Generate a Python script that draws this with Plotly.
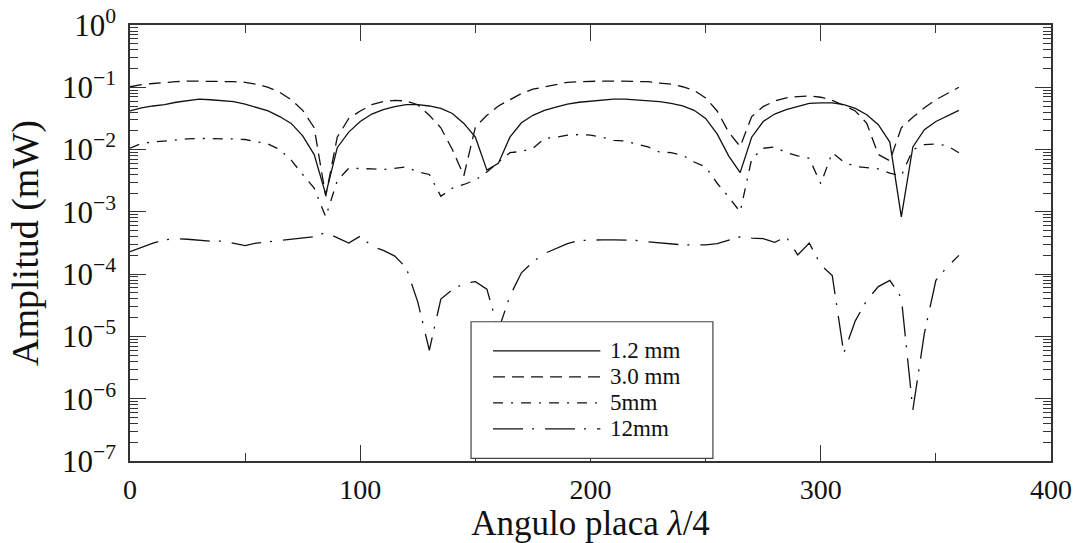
import plotly.graph_objects as go

# Rotation angle of the quarter-wave plate (degrees)
angle = list(range(0, 365, 5))

# Measured amplitude (mW) for each thickness
amp_1_2mm = [
    0.0417, 0.0468, 0.0501, 0.0525, 0.0575, 0.0617, 0.0646, 0.0631, 0.0617, 0.0589,
    0.0537, 0.0479, 0.0417, 0.0339, 0.0263, 0.0166, 0.00832, 0.00191, 0.0107, 0.0191,
    0.0282, 0.0372, 0.0437, 0.0490, 0.0525, 0.0525, 0.0501, 0.0457, 0.0380, 0.0263,
    0.0158, 0.00468, 0.00603, 0.0158, 0.0269, 0.0355, 0.0427, 0.0479, 0.0537, 0.0575,
    0.0603, 0.0631, 0.0646, 0.0646, 0.0631, 0.0617, 0.0589, 0.0550, 0.0501, 0.0427,
    0.0316, 0.0178, 0.00794, 0.00427, 0.0158, 0.0282, 0.0372, 0.0437, 0.0490, 0.0550,
    0.0562, 0.0562, 0.0525, 0.0457, 0.0363, 0.0251, 0.0132, 0.000832, 0.0110, 0.0209,
    0.0282, 0.0347, 0.0427,
]
amp_3_0mm = [
    0.102, 0.110, 0.115, 0.120, 0.123, 0.126, 0.126, 0.126, 0.126, 0.123,
    0.120, 0.112, 0.100, 0.0832, 0.0631, 0.0427, 0.0224, 0.00178, 0.0158, 0.0316,
    0.0417, 0.0525, 0.0589, 0.0617, 0.0603, 0.0525, 0.0355, 0.0224, 0.0100, 0.00380,
    0.0229, 0.0355, 0.0501, 0.0631, 0.0794, 0.0933, 0.102, 0.112, 0.120, 0.123,
    0.126, 0.126, 0.126, 0.126, 0.126, 0.123, 0.117, 0.112, 0.102, 0.0891,
    0.0676, 0.0417, 0.0191, 0.0112, 0.0339, 0.0490, 0.0603, 0.0676, 0.0708, 0.0724,
    0.0692, 0.0617, 0.0513, 0.0417, 0.0263, 0.00832, 0.00661, 0.0224, 0.0331, 0.0468,
    0.0631, 0.0794, 0.100,
]
amp_5mm = [
    0.0105, 0.0126, 0.0132, 0.0138, 0.0145, 0.0148, 0.0151, 0.0151, 0.0151, 0.0148,
    0.0145, 0.0135, 0.0123, 0.0100, 0.00676, 0.00398, 0.00240, 0.000832, 0.00316, 0.00501,
    0.00501, 0.00490, 0.00479, 0.00501, 0.00525, 0.00437, 0.00398, 0.00178, 0.00240, 0.00275,
    0.00324, 0.00437, 0.00631, 0.00891, 0.00933, 0.0105, 0.0151, 0.0158, 0.0170, 0.0174,
    0.0170, 0.0158, 0.0141, 0.0138, 0.0123, 0.0110, 0.00912, 0.00891, 0.00813, 0.00631,
    0.00525, 0.00288, 0.00174, 0.00100, 0.00708, 0.0105, 0.0110, 0.00891, 0.00794, 0.00724,
    0.00282, 0.00891, 0.00631, 0.00537, 0.00513, 0.00490, 0.00417, 0.00380, 0.0100, 0.0120,
    0.0123, 0.0115, 0.00891,
]
amp_12mm = [
    2.29e-4, 2.69e-4, 3.16e-4, 3.55e-4, 3.72e-4, 3.63e-4, 3.47e-4, 3.39e-4, 3.39e-4, 3.16e-4,
    2.88e-4, 3.16e-4, 3.31e-4, 3.39e-4, 3.55e-4, 3.72e-4, 3.98e-4, 4.68e-4, 3.80e-4, 3.16e-4,
    4.07e-4, 2.82e-4, 2.40e-4, 1.95e-4, 1.26e-4, 3.55e-5, 6.0e-6, 3.98e-5, 5.62e-5, 7.08e-5,
    7.59e-5, 5.75e-5, 1.26e-5, 4.47e-5, 1.05e-4, 1.58e-4, 2.14e-4, 2.57e-4, 3.09e-4, 3.47e-4,
    3.55e-4, 3.55e-4, 3.55e-4, 3.55e-4, 3.47e-4, 3.31e-4, 3.16e-4, 3.02e-4, 2.95e-4, 2.95e-4,
    2.95e-4, 3.09e-4, 3.47e-4, 3.98e-4, 3.80e-4, 3.72e-4, 3.24e-4, 3.98e-4, 2.04e-4, 3.16e-4,
    1.41e-4, 9.5e-5, 5.4e-6, 1.78e-5, 3.80e-5, 6.31e-5, 7.94e-5, 4.17e-5, 6.6e-7, 1.12e-5,
    7.94e-5, 1.32e-4, 2.0e-4,
]

series_names = ["1.2 mm", "3.0 mm", "5mm", "12mm"]
series_values = [amp_1_2mm, amp_3_0mm, amp_5mm, amp_12mm]
series_dash = ["solid", "12px,7px", "10px,8px,2px,8px", "30px,9px,2px,11px"]

x_tick_vals = [0, 100, 200, 300, 400]
y_exponents = [0, -1, -2, -3, -4, -5, -6, -7]

FONT = "Liberation Serif"
INK = "#111111"
FRAME = "#333333"

fig = go.Figure()
for name, vals, dash in zip(series_names, series_values, series_dash):
    fig.add_trace(go.Scatter(
        x=angle, y=vals, mode="lines", name=name, showlegend=False,
        line=dict(color=INK, width=1.3, dash=dash),
    ))

# Legend box with line samples and labels
box = dict(x0=0.3703, x1=0.6329, y0=0.0062, y1=0.3194)
fig.add_shape(type="rect", xref="paper", yref="paper", layer="above",
              x0=box["x0"], x1=box["x1"], y0=box["y0"], y1=box["y1"],
              fillcolor="white", line=dict(color="#444444", width=1.2))
row_y = [0.2524, 0.1928, 0.1332, 0.0736]
for name, dash, yy in zip(series_names, series_dash, row_y):
    fig.add_shape(type="line", xref="paper", yref="paper", layer="above",
                  x0=0.3942, x1=0.5107, y0=yy, y1=yy,
                  line=dict(color=INK, width=1.3, dash=dash))
    fig.add_annotation(xref="paper", yref="paper", x=0.5196, y=yy,
                       xanchor="left", yanchor="middle", showarrow=False,
                       borderpad=0, text=name,
                       font=dict(family=FONT, size=23, color=INK))

axis_common = dict(
    showline=True, linecolor=FRAME, linewidth=1.5, mirror="ticks",
    ticks="inside", ticklen=16, tickwidth=1.3, tickcolor=FRAME,
    showgrid=False, zeroline=False, automargin=False,
)

fig.update_xaxes(
    range=[0, 400], tickvals=x_tick_vals, ticklabelstandoff=3,
    tickfont=dict(family=FONT, size=28, color=INK),
    minor=dict(ticks="inside", ticklen=8, tickwidth=1.3, tickcolor=FRAME, dtick=50),
    title=dict(text="Angulo placa <i>λ</i>/4", font=dict(family=FONT, size=35, color=INK), standoff=2),
    **axis_common,
)
fig.update_yaxes(
    type="log", range=[-7, 0], ticklabelstandoff=6,
    tickfont=dict(family=FONT, size=31, color=INK),
    tickvals=[10.0 ** e for e in y_exponents],
    ticktext=["10<sup>%s</sup>" % (str(e).replace("-", "−")) for e in y_exponents],
    minor=dict(ticks="inside", ticklen=8, tickwidth=1.3, tickcolor=FRAME,
               tickvals=[m * 10.0 ** e for e in range(-7, 0) for m in range(2, 10)]),
    title=dict(text="Amplitud (mW)", font=dict(family=FONT, size=38, color=INK), standoff=12),
    **axis_common,
)

fig.update_layout(
    width=1088, height=543,
    margin=dict(l=130, r=37, t=25, b=82),
    paper_bgcolor="white", plot_bgcolor="white",
    showlegend=False,
)

fig.write_html("out.html")
